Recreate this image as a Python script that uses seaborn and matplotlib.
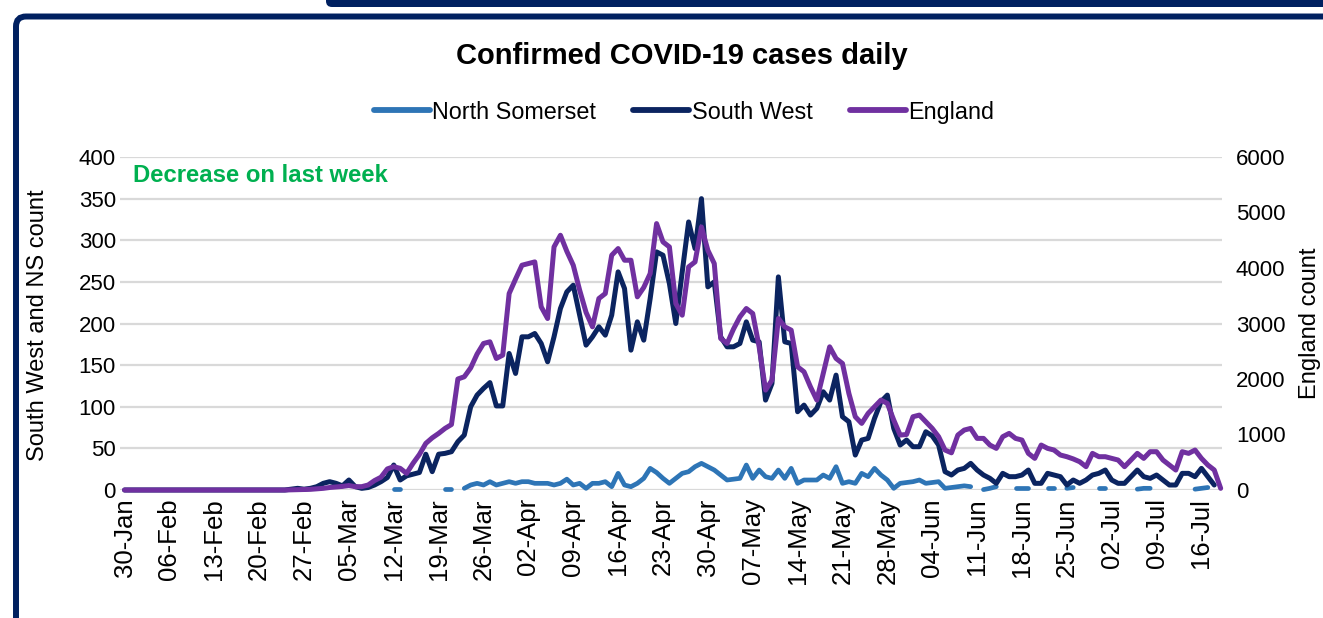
import pandas as pd
import matplotlib
matplotlib.use("Agg")
import matplotlib.pyplot as plt
from matplotlib.lines import Line2D
from matplotlib.patches import FancyBboxPatch
from matplotlib.transforms import IdentityTransform
import seaborn as sns

# ---- data (daily confirmed cases) ----
dates = pd.date_range("2020-01-30", "2020-07-19", freq="D")

tick_labels = ["30-Jan", "06-Feb", "13-Feb", "20-Feb", "27-Feb", "05-Mar", "12-Mar",
               "19-Mar", "26-Mar", "02-Apr", "09-Apr", "16-Apr", "23-Apr", "30-Apr",
               "07-May", "14-May", "21-May", "28-May", "04-Jun", "11-Jun", "18-Jun",
               "25-Jun", "02-Jul", "09-Jul", "16-Jul"]

series_names = ["North Somerset", "South West", "England"]

ns_cases = [None] * 42 + [
    1, 1, None, None, None, None, None,
    None, 1, 1, None, 2, 6, 8,
    6, 10, 6, 8, 10, 8, 10,
    10, 8, 8, 8, 6, 8, 13,
    6, 8, 2, 8, 8, 10, 4,
    20, 6, 4, 8, 14, 26, 21,
    14, 8, 14, 20, 22, 28, 32,
    28, 24, 18, 12, 13, 14, 30,
    14, 24, 16, 14, 24, 14, 26,
    8, 12, 12, 12, 18, 14, 28,
    8, 10, 8, 20, 16, 26, 18,
    12, 2, 8, 9, 10, 12, 8,
    9, 10, 2, 3, 4, 5, 4,
    None, 0.5, 2, 4, None, None, 2,
    2, 2, None, None, 2, 2, None,
    2, 3, None, None, None, 2, 2,
    None, None, None, None, 1, 2, 2,
    None, None, None, None, None, None, 1,
    2, 3, None, None]

sw_cases = [0] * 26 + [
    1, 2,
    1, 2, 4, 8, 10, 8, 5,
    12, 4, 2, 3, 6, 10, 15,
    30, 12, 17, 19, 21, 43, 22,
    43, 44, 46, 58, 66, 100, 114,
    122, 129, 101, 101, 164, 140, 184,
    184, 188, 176, 154, 184, 218, 238,
    246, 210, 174, 184, 196, 186, 210,
    262, 242, 168, 202, 180, 230, 286,
    282, 248, 200, 262, 322, 290, 350,
    244, 250, 184, 172, 172, 176, 202,
    180, 178, 108, 128, 256, 178, 176,
    94, 102, 90, 98, 118, 108, 138,
    88, 82, 42, 60, 62, 86, 106,
    114, 74, 54, 60, 52, 52, 70,
    65, 54, 22, 18, 24, 26, 32,
    24, 18, 14, 8, 20, 16, 16,
    18, 24, 8, 8, 20, 18, 16,
    6, 12, 8, 12, 18, 20, 24,
    12, 8, 8, 16, 24, 16, 14,
    18, 12, 6, 6, 20, 20, 16,
    26, 16, 6, None]

england_cases = [0] * 26 + [
    3, 5,
    8, 12, 20, 30, 45, 55, 65,
    80, 60, 60, 90, 170, 230, 380,
    420, 390, 300, 480, 640, 840, 940,
    1020, 1110, 1180, 2000, 2040, 2200, 2450,
    2640, 2670, 2370, 2430, 3540, 3800, 4050,
    4080, 4110, 3300, 3090, 4380, 4590, 4300,
    4050, 3600, 3200, 2940, 3450, 3540, 4230,
    4350, 4140, 4140, 3480, 3650, 3900, 4800,
    4470, 4380, 3360, 3150, 4020, 4110, 4740,
    4320, 4080, 2730, 2640, 2900, 3120, 3270,
    3180, 2580, 1800, 1980, 3090, 2940, 2880,
    2220, 2130, 1860, 1620, 2100, 2580, 2370,
    2280, 1740, 1320, 1200, 1380, 1500, 1620,
    1560, 1260, 990, 1000, 1320, 1350, 1230,
    1110, 960, 720, 670, 990, 1080, 1110,
    930, 930, 810, 750, 960, 1020, 930,
    900, 660, 570, 810, 750, 720, 630,
    600, 560, 510, 420, 660, 600, 600,
    570, 540, 420, 540, 660, 570, 690,
    690, 540, 450, 360, 690, 660, 720,
    570, 450, 360, 30]

colours = {"North Somerset": "#2E75B6", "South West": "#0B2460", "England": "#7030A0"}
navy = "#002060"

df = pd.DataFrame({"date": dates,
                   "ns": pd.Series(ns_cases, dtype=float),
                   "sw": pd.Series(sw_cases, dtype=float),
                   "eng": pd.Series(england_cases, dtype=float)})

# North Somerset has gaps -> draw each run of values as its own unit
ns_df = df[["date", "ns"]].copy()
ns_df["seg"] = ns_df["ns"].isna().cumsum()
ns_df = ns_df.dropna()

sns.set_style("white")
plt.rcParams["font.family"] = ["Liberation Sans", "DejaVu Sans"]
plt.rcParams.update({"text.color": "black", "axes.labelcolor": "black",
                     "xtick.color": "black", "ytick.color": "black"})

W, H = 1323, 618
fig = plt.figure(figsize=(W / 100, H / 100), dpi=100)
ax = fig.add_axes([120 / W, (H - 490) / H, (1222 - 120) / W, 333 / H])

line_kw = dict(solid_capstyle="round", solid_joinstyle="round", clip_on=False, legend=False)
sns.lineplot(data=ns_df, x="date", y="ns", units="seg", estimator=None,
             color=colours["North Somerset"], lw=3.4, ax=ax, **line_kw)
sns.lineplot(data=df, x="date", y="sw", color=colours["South West"], lw=3.6, ax=ax, **line_kw)

ax2 = ax.twinx()
sns.lineplot(data=df, x="date", y="eng", color=colours["England"], lw=3.6, ax=ax2, **line_kw)

# axes
ax.set_xlim(dates[0] - pd.Timedelta(hours=17), dates[-1] + pd.Timedelta(hours=5))
ax.set_ylim(0, 400)
ax.set_yticks(range(0, 401, 50))
ax2.set_ylim(0, 6000)
ax2.set_yticks(range(0, 6001, 1000))
ax.set_xticks(dates[::7])
ax.set_xticklabels(tick_labels, rotation=90)
ax.set_xlabel("")
ax.set_ylabel("")
ax2.set_ylabel("")

ax.grid(axis="y", color="#d9d9d9", lw=1.6)
ax.grid(axis="x", visible=False)
ax2.grid(False)
ax.set_axisbelow(True)
for a in (ax, ax2):
    for s in a.spines.values():
        s.set_visible(False)
ax.tick_params(axis="y", length=0, pad=3, labelsize=16)
ax.tick_params(axis="x", length=0, pad=6, labelsize=18.5)
ax2.tick_params(axis="y", length=0, pad=10, labelsize=16)

# texts
fig.text(682 / W, 1 - 56 / H, "Confirmed COVID-19 cases daily", ha="center", va="center",
         fontsize=21, fontweight="bold")
fig.text(38 / W, 1 - 325 / H, "South West and NS count", rotation=90,
         ha="center", va="center", fontsize=17)
fig.text(1310 / W, 1 - 323 / H, "England count", rotation=90,
         ha="center", va="center", fontsize=17)
fig.text(133 / W, 1 - 175 / H, "Decrease on last week", color="#00B050",
         ha="left", va="center", fontsize=17.2, fontweight="bold")

handles = [Line2D([0], [0], color=colours[n], lw=4.2, solid_capstyle="round")
           for n in series_names]
fig.legend(handles, series_names, loc="center", bbox_to_anchor=(684 / W, 1 - 112 / H),
           ncol=3, frameon=False, fontsize=16.8, handlelength=2.4,
           handletextpad=0.1, columnspacing=1.6)

# navy frame of the slide
frame = FancyBboxPatch((16, -60), 1400, 601.5 + 60, boxstyle="round,pad=0,rounding_size=10",
                       fc="none", ec=navy, lw=4.3, transform=IdentityTransform())
fig.add_artist(frame)
top_bar = FancyBboxPatch((326, 611), 1100, 40, boxstyle="round,pad=0,rounding_size=6",
                         fc=navy, ec="none", transform=IdentityTransform())
fig.add_artist(top_bar)

fig.savefig("out.png", dpi=100)
